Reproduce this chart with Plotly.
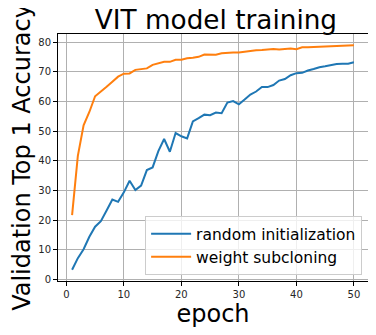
import plotly.graph_objects as go

epochs = list(range(1, 51))

random_init = [3.3, 7.2, 10.2, 14.4, 17.8, 19.7, 23.3, 27.0, 26.2, 29.4,
               33.3, 30.2, 31.7, 36.9, 37.8, 43.3, 47.4, 43.1, 49.4, 48.3,
               47.6, 53.3, 54.4, 55.6, 55.4, 56.3, 56.1, 59.7, 60.2, 59.1,
               60.7, 62.4, 63.4, 64.9, 64.9, 65.6, 67.1, 67.6, 68.9, 69.6,
               69.7, 70.5, 71.0, 71.6, 71.9, 72.4, 72.7, 72.8, 72.8, 73.3]

weight_subcloning = [21.7, 41.7, 52.0, 56.5, 61.8, 63.3, 65.0, 66.7, 68.4, 69.4,
                     69.5, 70.7, 71.0, 71.2, 72.4, 72.9, 73.4, 73.4, 74.1, 74.1,
                     74.6, 74.8, 75.1, 75.9, 75.8, 75.8, 76.3, 76.5, 76.6, 76.6,
                     76.9, 77.2, 77.3, 77.4, 77.6, 77.7, 77.6, 77.7, 77.9, 77.7,
                     78.3, 78.3, 78.4, 78.5, 78.5, 78.5, 78.6, 78.9, 78.9, 79.0]

font = 'DejaVu Sans'

fig = go.Figure()
fig.add_trace(go.Scatter(x=epochs, y=random_init, mode='lines', name='random initialization',
                         line=dict(color='#1f77b4', width=2)))
fig.add_trace(go.Scatter(x=epochs, y=weight_subcloning, mode='lines', name='weight subcloning',
                         line=dict(color='#ff7f0e', width=2)))

axis_style = dict(showline=True, linecolor='black', linewidth=1, mirror=True,
                  ticks='outside', ticklen=4, tickcolor='black', automargin=False,
                  showgrid=True, gridcolor='#b0b0b0', gridwidth=1, zeroline=False,
                  tickfont=dict(family=font, size=10, color='#262626'))

fig.update_xaxes(range=[-1.45, 52.45], tickvals=[0, 10, 20, 30, 40, 50],
                 title=dict(text='epoch', font=dict(family=font, size=24, color='black'), standoff=2),
                 **axis_style)
fig.update_yaxes(range=[-0.5, 82.8], tickvals=[0, 10, 20, 30, 40, 50, 60, 70, 80],
                 title=dict(text='Validation Top 1 Accuracy', font=dict(family=font, size=24, color='black'),
                            standoff=6),
                 **axis_style)

# page body has an 8px margin, so the figure is a bit smaller than the window
fig.update_layout(
    width=368, height=327,
    margin=dict(l=50, r=8, t=26, b=54, autoexpand=False),
    paper_bgcolor='white', plot_bgcolor='white',
    title=dict(text='VIT model training', x=0.565, xanchor='center', y=0.964, yanchor='middle',
               font=dict(family=font, size=26.3, color='black')),
    legend=dict(x=0.981, xanchor='right', y=0.024, yanchor='bottom',
                bgcolor='rgba(255,255,255,0.8)', bordercolor='#cccccc', borderwidth=1,
                font=dict(family=font, size=15.5, color='black'), itemwidth=40,
                tracegroupgap=0),
    showlegend=True,
)

fig.write_html('out.html')
